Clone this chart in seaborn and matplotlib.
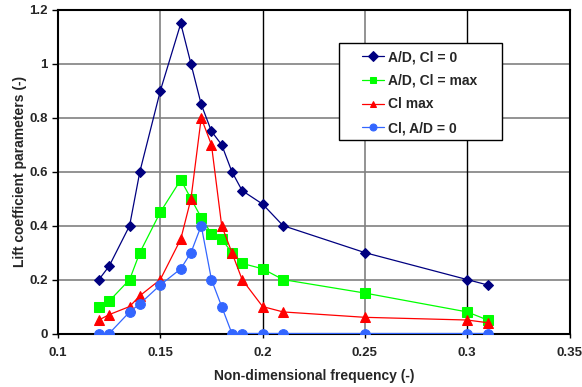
import matplotlib
matplotlib.use("Agg")
import matplotlib.pyplot as plt
from matplotlib.patches import Rectangle
import seaborn as sns
import pandas as pd

sns.set_style("white")
plt.rcParams['font.family'] = ['Liberation Sans', 'DejaVu Sans']

freq = [0.12, 0.125, 0.135, 0.14, 0.15, 0.16, 0.165, 0.17, 0.175, 0.18,
        0.185, 0.19, 0.2, 0.21, 0.25, 0.3, 0.31]
ad_cl0 = [0.2, 0.25, 0.4, 0.6, 0.9, 1.15, 1.0, 0.85, 0.75, 0.7,
          0.6, 0.53, 0.48, 0.4, 0.3, 0.2, 0.18]
ad_clmax = [0.1, 0.12, 0.2, 0.3, 0.45, 0.57, 0.5, 0.43, 0.37, 0.35,
            0.3, 0.26, 0.24, 0.2, 0.15, 0.08, 0.05]
cl_max = [0.05, 0.07, 0.1, 0.14, 0.2, 0.35, 0.5, 0.8, 0.7, 0.4,
          0.3, 0.2, 0.1, 0.08, 0.06, 0.05, 0.04]
cl_ad0 = [0, 0, 0.08, 0.11, 0.18, 0.24, 0.3, 0.4, 0.2, 0.1,
          0, 0, 0, 0, 0, 0, 0]
series_names = ["A/D, Cl = 0", "A/D, Cl = max", "Cl max", "Cl, A/D = 0"]
xticks = [0.1, 0.15, 0.2, 0.25, 0.3, 0.35]
xtick_labels = ["0.1", "0.15", "0.2", "0.25", "0.3", "0.35"]
yticks = [0, 0.2, 0.4, 0.6, 0.8, 1, 1.2]
ytick_labels = ["0", "0.2", "0.4", "0.6", "0.8", "1", "1.2"]

rows = []
for name, vals in zip(series_names, [ad_cl0, ad_clmax, cl_max, cl_ad0]):
    for f, v in zip(freq, vals):
        rows.append({"freq": f, "value": v, "series": name})
df = pd.DataFrame(rows)

colors = {"A/D, Cl = 0": "#000080", "A/D, Cl = max": "#00FF00",
          "Cl max": "#FF0000", "Cl, A/D = 0": "#3366FF"}
markers = {"A/D, Cl = 0": "D", "A/D, Cl = max": "s",
           "Cl max": "^", "Cl, A/D = 0": "o"}
msizes = {"A/D, Cl = 0": 5, "A/D, Cl = max": 6.5,
          "Cl max": 7, "Cl, A/D = 0": 7}

W, H = 582, 387
fig = plt.figure(figsize=(W/100, H/100), dpi=100)
ax = fig.add_axes([58/W, 1-333.5/H, (569.5-58)/W, (333.5-10)/H])

for name in series_names:
    sub = df[df.series == name]
    sns.lineplot(data=sub, x="freq", y="value", ax=ax, color=colors[name],
                 marker=markers[name], markersize=msizes[name],
                 markeredgecolor=colors[name], linewidth=0.9,
                 label=name, estimator=None, sort=False, zorder=3)

ax.set_xlim(0.1, 0.35)
ax.set_ylim(0, 1.2)
ax.set_xticks(xticks)
ax.set_xticklabels(xtick_labels, fontsize=9.5, fontweight='bold')
ax.set_yticks(yticks)
ax.set_yticklabels(ytick_labels, fontsize=9.5, fontweight='bold')
ax.tick_params(axis='y', direction='out', length=4.3, width=1, color='black', pad=3,
               left=True)
ax.tick_params(axis='x', direction='out', length=3, width=1, color='black', pad=7,
               bottom=True)

for y in yticks[1:-1]:
    ax.axhline(y, color='#808080', linewidth=1.2, zorder=1)
for x in [0.15, 0.25]:
    ax.axvline(x, color='#808080', linewidth=1.2, zorder=1)
for x in [0.2, 0.3]:
    ax.axvline(x, color='black', linewidth=1.0, zorder=1)

for s in ax.spines.values():
    s.set_color('black')
    s.set_linewidth(1.5)

ax.set_xlabel("Non-dimensional frequency (-)", fontsize=10, fontweight='bold', labelpad=7)
ax.set_ylabel("Lift coefficient parameters (-)", fontsize=10, fontweight='bold', labelpad=1.5)

# legend box
box = Rectangle((339/W, 1-140/H), (502-339)/W, (140-43)/H, transform=fig.transFigure,
                facecolor='white', edgecolor='black', linewidth=1.0, zorder=4.5,
                clip_on=False)
ax.add_patch(box)

leg = ax.legend(loc='upper left', bbox_to_anchor=(362/W, 1-50/H),
                bbox_transform=fig.transFigure,
                frameon=False, prop={'weight': 'bold', 'size': 10},
                borderpad=0, labelspacing=0.7, handlelength=1.6,
                handletextpad=0.3, borderaxespad=0)
leg.set_zorder(5)
for h in leg.legend_handles:
    h.set_markersize(5)

fig.savefig("out.png", dpi=100)
